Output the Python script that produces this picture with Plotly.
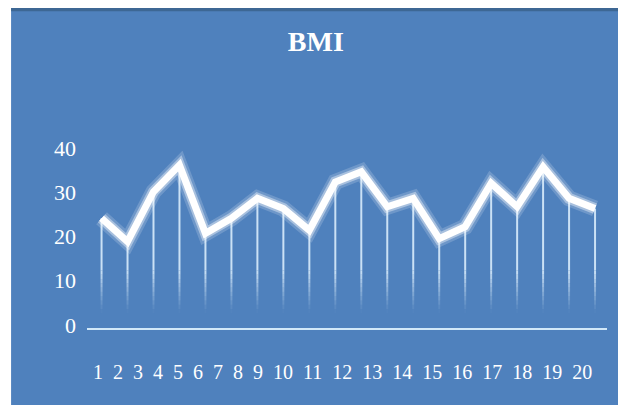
import plotly.graph_objects as go

# ---- data ----
subjects = list(range(1, 21))
bmi = [24.8, 19.5, 30.8, 36.8, 21.4, 24.8, 29.3, 27.0, 22.1, 33.0,
       35.3, 27.4, 29.3, 20.2, 22.9, 32.7, 27.4, 36.4, 29.3, 27.0]
x_labels = [str(s) for s in subjects]
y_ticks = [0, 10, 20, 30, 40]

BLUE = "#4f81bd"
SERIF = "Liberation Serif, Times New Roman, serif"

fig = go.Figure()

# drop lines: solid upper part, then a stepped fade towards the baseline
FADE_START, FADE_END, STEPS = 13.0, 3.3, 10

def add_drop(top_fn, bot_fn, alpha):
    xs, ys = [], []
    for s, v in zip(subjects, bmi):
        xs += [s, s, None]
        ys += [top_fn(v), bot_fn(v), None]
    fig.add_trace(go.Scatter(x=xs, y=ys, mode="lines",
                             line=dict(color=f"rgba(225,242,255,{alpha:.3f})", width=2),
                             hoverinfo="skip", showlegend=False))

add_drop(lambda v: v, lambda v: FADE_START, 0.85)
step = (FADE_START - FADE_END) / STEPS
for i in range(STEPS):
    hi = FADE_START - i * step
    lo = hi - step
    a = 0.85 * (1 - (i + 0.5) / STEPS) ** 1.2
    add_drop(lambda v, h=hi: h, lambda v, l=lo: l, a)

# glow + main line
fig.add_trace(go.Scatter(x=subjects, y=bmi, mode="lines",
                         line=dict(color="rgba(255,255,255,0.18)", width=16),
                         hoverinfo="skip", showlegend=False))
fig.add_trace(go.Scatter(x=subjects, y=bmi, mode="lines",
                         line=dict(color="rgba(255,255,255,0.4)", width=11),
                         hoverinfo="skip", showlegend=False))
fig.add_trace(go.Scatter(x=subjects, y=bmi, mode="lines",
                         line=dict(color="#ffffff", width=7),
                         name="BMI", showlegend=False))

# x labels laid out as a text run (as in the reference)
nb = "\u00a0\u00a0"
fig.add_annotation(text=nb.join(x_labels), xref="paper", yref="paper",
                   x=0.491, y=-0.249, xanchor="center", yanchor="middle",
                   showarrow=False, font=dict(family=SERIF, size=20, color="white"))

# blue panel background and top shadow strip
fig.add_shape(type="rect", xref="paper", yref="paper",
              x0=-0.146, x1=1.03, y0=-0.5, y1=1.808,
              fillcolor=BLUE, line_width=0, layer="below")
fig.add_shape(type="rect", xref="paper", yref="paper",
              x0=-0.146, x1=1.03, y0=1.79, y1=1.808,
              fillcolor="#3d6794", line_width=0, layer="below")

fig.update_layout(
    width=618, height=405,
    margin=dict(l=87, r=11, t=151, b=77),
    paper_bgcolor="white",
    plot_bgcolor="rgba(0,0,0,0)",
    title=dict(text="<b>BMI</b>", x=0.511, xanchor="center",
               y=0.898, yanchor="middle", yref="container",
               font=dict(family=SERIF, size=28, color="white")),
    xaxis=dict(range=[0.44, 20.46], showgrid=False, zeroline=False,
               showticklabels=False, ticks="",
               showline=True, linecolor="#d2e8f8", linewidth=2),
    yaxis=dict(range=[0, 40], tickvals=y_ticks, showgrid=False,
               zeroline=False, showline=False, ticks="",
               ticklabelstandoff=10, ticklabelshift=-3,
               tickfont=dict(family=SERIF, size=22, color="white")),
)

fig.write_html("out.html")
